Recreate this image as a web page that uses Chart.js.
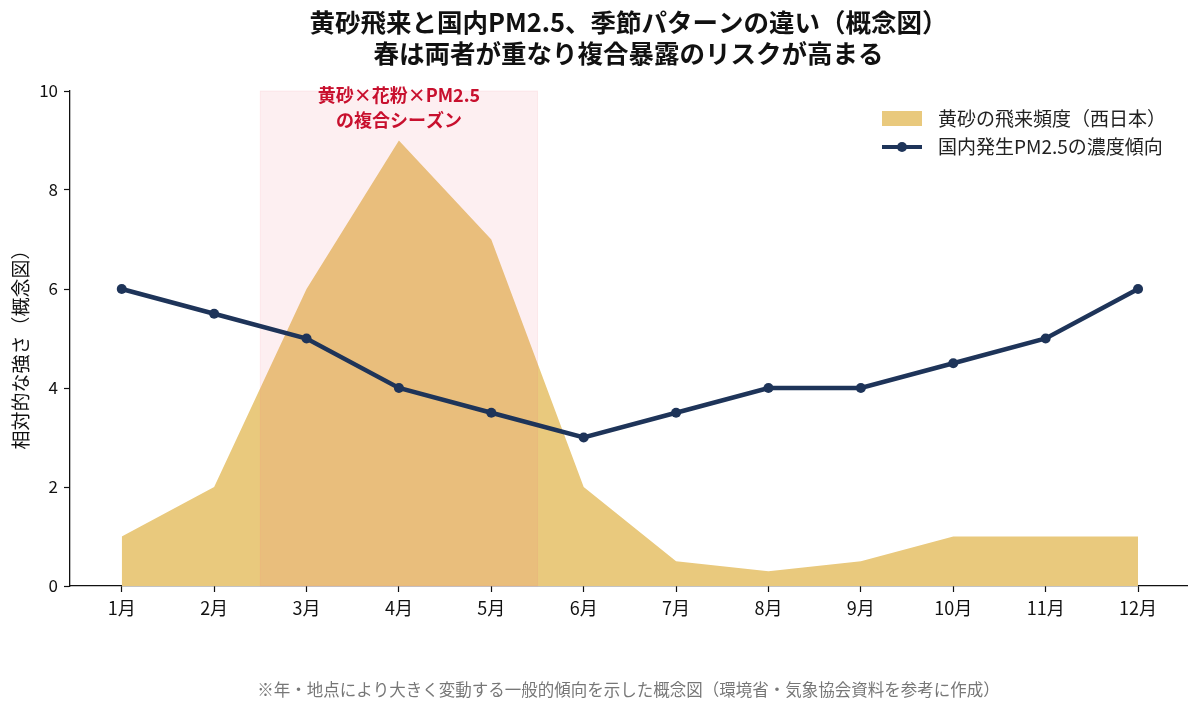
<!DOCTYPE html>
<html>
<head>
<meta charset="utf-8">
<script src="https://cdn.jsdelivr.net/npm/chart.js@4"></script>
<style>
  html, body { margin: 0; padding: 0; background: #fff; }
  #wrap { width: 1200px; height: 711px; }
</style>
</head>
<body>
<div id="wrap"><canvas id="chart"></canvas></div>
<script>
// データ（概念図の値）
const months = [1, 2, 3, 4, 5, 6, 7, 8, 9, 10, 11, 12];
const monthLabels = ["1月", "2月", "3月", "4月", "5月", "6月", "7月", "8月", "9月", "10月", "11月", "12月"];
const kosaValues = [1, 2, 6, 9, 7, 2, 0.5, 0.3, 0.5, 1, 1, 1];
const pm25Values = [6, 5.5, 5, 4, 3.5, 3, 3.5, 4, 4, 4.5, 5, 6];
const yTicks = [0, 2, 4, 6, 8, 10];
const seasonRange = [2.5, 5.5]; // 複合シーズン（3〜5月）

const titleLines = ["黄砂飛来と国内PM2.5、季節パターンの違い（概念図）", "春は両者が重なり複合暴露のリスクが高まる"];
const seasonLabel = ["黄砂×花粉×PM2.5", "の複合シーズン"];
const footNote = "※年・地点により大きく変動する一般的傾向を示した概念図（環境省・気象協会資料を参考に作成）";

const FONT = "'Noto Sans CJK JP', 'Noto Sans', sans-serif";
const KOSA_COLOR = "#E9C97D";
const PM_COLOR = "#1E3459";

const toXY = (vals) => months.map((m, i) => ({ x: m, y: vals[i] }));

// 帯・文字・凡例を描く
const extras = {
  id: "extras",
  afterDatasetDraw(chart, args) {
    if (args.index !== 0) return;
    const { ctx, scales: { x, y } } = chart;
    const x0 = x.getPixelForValue(seasonRange[0]);
    const x1 = x.getPixelForValue(seasonRange[1]);
    const yTop = y.getPixelForValue(10);
    const yBot = y.getPixelForValue(0);
    ctx.save();
    ctx.fillStyle = "rgba(240, 100, 115, 0.1)";
    ctx.fillRect(x0, yTop, x1 - x0, yBot - yTop);
    ctx.strokeStyle = "rgba(240, 120, 130, 0.12)";
    ctx.lineWidth = 1;
    ctx.strokeRect(x0, yTop, x1 - x0, yBot - yTop);
    ctx.restore();
  },
  afterDraw(chart) {
    const { ctx, chartArea, scales: { x } } = chart;
    const cx = (chartArea.left + chartArea.right) / 2;
    ctx.save();
    ctx.textAlign = "center";
    ctx.textBaseline = "middle";

    // タイトル
    ctx.fillStyle = "#111";
    ctx.font = "bold 25.5px " + FONT;
    ctx.fillText(titleLines[0], cx, 22);
    ctx.fillText(titleLines[1], cx, 53);

    // 複合シーズンの注記
    const sx = x.getPixelForValue((seasonRange[0] + seasonRange[1]) / 2);
    ctx.fillStyle = "#C8102E";
    ctx.font = "bold 18px " + FONT;
    ctx.fillText(seasonLabel[0], sx, 95);
    ctx.fillText(seasonLabel[1], sx, 120);

    // 注記
    ctx.fillStyle = "#777";
    ctx.font = "16.5px " + FONT;
    ctx.fillText(footNote, cx, 690);

    // y軸タイトル
    ctx.save();
    ctx.translate(21, 345);
    ctx.rotate(-Math.PI / 2);
    ctx.fillStyle = "#111";
    ctx.font = "19px " + FONT;
    ctx.fillText("相対的な強さ（概念図）", 0, 0);
    ctx.restore();

    // 凡例
    const lx = 882, ly1 = 118, ly2 = 147;
    ctx.fillStyle = KOSA_COLOR;
    ctx.fillRect(lx, ly1 - 7, 40, 15);
    ctx.strokeStyle = PM_COLOR;
    ctx.lineWidth = 4;
    ctx.beginPath();
    ctx.moveTo(lx, ly2);
    ctx.lineTo(lx + 40, ly2);
    ctx.stroke();
    ctx.fillStyle = PM_COLOR;
    ctx.beginPath();
    ctx.arc(lx + 20, ly2, 5, 0, Math.PI * 2);
    ctx.fill();
    ctx.textAlign = "left";
    ctx.fillStyle = "#222";
    ctx.font = "19px " + FONT;
    ctx.fillText(chart.data.datasets[0].label, lx + 56, ly1 + 1);
    ctx.fillText(chart.data.datasets[1].label, lx + 56, ly2);
    ctx.restore();
  }
};

new Chart(document.getElementById("chart"), {
  type: "line",
  data: {
    datasets: [
      {
        label: "黄砂の飛来頻度（西日本）",
        data: toXY(kosaValues),
        order: 2,
        fill: "origin",
        backgroundColor: KOSA_COLOR,
        borderWidth: 0,
        borderColor: "rgba(0,0,0,0)",
        pointRadius: 0,
        tension: 0
      },
      {
        label: "国内発生PM2.5の濃度傾向",
        data: toXY(pm25Values),
        order: 1,
        fill: false,
        borderColor: PM_COLOR,
        borderWidth: 4.5,
        backgroundColor: PM_COLOR,
        pointRadius: 5,
        pointBackgroundColor: PM_COLOR,
        pointBorderWidth: 0,
        tension: 0
      }
    ]
  },
  options: {
    responsive: true,
    maintainAspectRatio: false,
    animation: false,
    devicePixelRatio: 1,
    layout: { padding: { left: 0, top: 91, right: 13, bottom: 85 } },
    plugins: {
      legend: { display: false },
      title: { display: false },
      tooltip: { enabled: false }
    },
    scales: {
      x: {
        type: "linear",
        min: 0.44,
        max: 12.53,
        afterBuildTicks: (scale) => { scale.ticks = months.map((m) => ({ value: m })); },
        afterFit: (scale) => { scale.height = 40; },
        ticks: {
          autoSkip: false,
          maxRotation: 0,
          padding: 5,
          color: "#111",
          font: { family: FONT, size: 18 },
          callback: (v) => monthLabels[months.indexOf(v)]
        },
        grid: { drawOnChartArea: false, drawTicks: true, tickLength: 6, tickColor: "#111", tickWidth: 1.2 },
        border: { color: "#111", width: 1.3 }
      },
      y: {
        min: 0,
        max: 10,
        afterBuildTicks: (scale) => { scale.ticks = yTicks.map((v) => ({ value: v })); },
        afterFit: (scale) => { scale.width = 70; },
        ticks: {
          padding: 6,
          color: "#111",
          font: { family: FONT, size: 17 }
        },
        grid: { drawOnChartArea: false, drawTicks: true, tickLength: 6, tickColor: "#111", tickWidth: 1.2 },
        border: { color: "#111", width: 1.3 }
      }
    }
  },
  plugins: [extras]
});
</script>
</body>
</html>
